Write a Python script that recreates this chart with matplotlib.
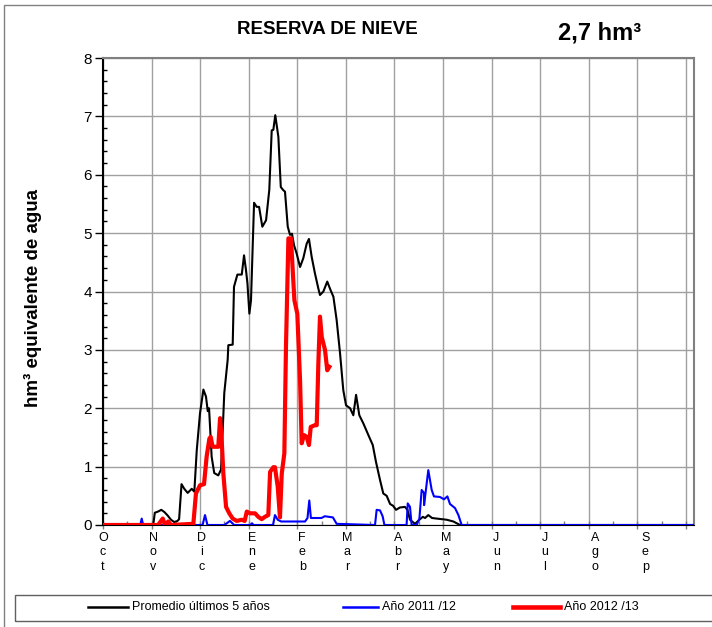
import matplotlib.pyplot as plt
import matplotlib.transforms as mtransforms
from matplotlib.patches import Rectangle
from matplotlib.lines import Line2D
import numpy as np

plt.rcParams['font.family'] = ['Liberation Sans', 'DejaVu Sans']

# dias desde 1 oct
prom_d = [0, 31, 32, 34, 36, 38, 40, 42, 44, 46, 47, 48.5, 50.2, 52.3, 54.8, 56.4, 57.9, 59.9,
          62, 63.6, 64.7, 65.5, 67.1, 68.7, 71.2, 72.9, 74.9, 77, 77.4, 80.1, 80.9, 83, 85.7,
          87.1, 88.3, 89.2, 90.4, 91.4, 93.3, 94.9, 96.4, 98.4, 100.7, 102.7, 104.2, 105.2, 106.4,
          108.3, 109.8, 111.2, 112.4, 114.1, 115.5, 116.7, 118, 119.6, 121.7, 123.7, 125.8,
          127.2, 128.9, 130.9, 133, 134, 136.1, 138.5, 140.6, 142.3, 144.3, 146.4, 148.4,
          150.1, 152.6, 154.6, 156.3, 158.3, 160.8, 163.9, 166.6, 168.6, 171.1, 173.1, 175.2,
          177.3, 179.1, 181, 183.4, 186.5, 188, 189.6, 192.7, 195.4, 197.5, 198.9, 200.9,
          203.2, 206.1, 212.3, 216.4, 220.5, 365]
prom_v = [0, 0, 0.21, 0.23, 0.26, 0.22, 0.16, 0.09, 0.05, 0.07, 0.10, 0.70, 0.62, 0.55, 0.62, 0.57, 1.28, 1.91,
          2.32, 2.20, 1.95, 2.00, 1.17, 0.89, 0.85, 0.95, 2.26, 2.83, 3.08, 3.09, 4.08, 4.29, 4.29,
          4.62, 4.37, 4.14, 3.62, 3.85, 5.52, 5.45, 5.45, 5.11, 5.22, 5.74, 6.76, 6.77, 7.02,
          6.65, 5.79, 5.74, 5.71, 5.11, 4.97, 4.99, 4.79, 4.65, 4.42, 4.57, 4.82,
          4.90, 4.59, 4.31, 4.05, 3.94, 4.00, 4.17, 4.02, 3.91, 3.51, 2.94, 2.31,
          2.05, 2.00, 1.88, 2.23, 1.88, 1.74, 1.54, 1.37, 1.08, 0.77, 0.54, 0.50,
          0.36, 0.33, 0.26, 0.30, 0.31, 0.26, 0.09, 0.02, 0.09, 0.14, 0.12, 0.17,
          0.12, 0.11, 0.09, 0.06, 0.0, 0.0]

a1112_d = [0, 23, 23.9, 24.8, 40, 41, 42, 61.5, 63, 64.5, 75, 78.4, 81, 91, 92, 93, 105, 106.2, 107.9,
           110, 124.8, 126.3, 127.4, 128.4, 134.9, 137, 142, 144.3, 168, 169, 171.1, 172.7, 173.8,
           187.5, 188.2, 189.6, 190.6, 193.7, 195.4, 196.8, 198.2, 198.3, 200.9, 203, 204.4, 208.1,
           210.6, 212.7, 214.3, 217.4, 219.5, 221.5, 365]
a1112_v = [0, 0, 0.11, 0, 0, 0.03, 0, 0, 0.17, 0, 0, 0.07, 0, 0, 0.03, 0, 0, 0.17, 0.09,
           0.06, 0.06, 0.12, 0.42, 0.12, 0.12, 0.15, 0.13, 0.02, 0, 0.26, 0.25, 0.15, 0,
           0, 0.37, 0.31, 0, 0, 0.11, 0.60, 0.55, 0.34, 0.94, 0.60, 0.49, 0.48,
           0.44, 0.49, 0.36, 0.29, 0.17, 0.0, 0.0]

a1213_d = [0, 34, 36.9, 38.3, 40.3, 42, 55.8, 57.4, 59.9, 62.4, 64, 65.7, 66.5, 67.7, 71.2, 72.3, 73.3,
           74.3, 76, 78, 80.1, 82.6, 85.7, 87.5, 88.8, 90.8, 93.9, 95.9, 98, 100, 102.1, 103.2,
           105.2, 106.2, 107.9, 109.3, 110.4, 112, 113, 114.5, 116.1, 117.5, 118.2, 120, 121.7,
           122.7, 124.2, 125.8, 127.2, 128.3, 130.9, 132, 133, 134, 135.1, 137.1, 138.5, 139.8]
a1213_v = [0, 0, 0.11, 0, 0.06, 0, 0.02, 0.54, 0.68, 0.70, 1.17, 1.48, 1.51, 1.34, 1.34, 1.83, 1.46,
           0.89, 0.31, 0.20, 0.11, 0.07, 0.09, 0.07, 0.23, 0.20, 0.20, 0.14, 0.10, 0.14, 0.17, 0.91,
           0.99, 0.99, 0.66, 0.13, 0.88, 1.23, 3.05, 4.91, 4.91, 4.20, 3.85, 3.62, 2.48,
           1.40, 1.54, 1.51, 1.37, 1.68, 1.71, 1.71, 2.77, 3.57, 3.22, 3.00, 2.65, 2.71]

meses = ['Oct', 'Nov', 'Dic', 'Ene', 'Feb', 'Mar', 'Abr', 'May', 'Jun', 'Jul', 'Ago', 'Sep']
inicio_mes = [0, 31, 61, 92, 123, 151, 182, 212, 243, 273, 304, 335]

W, H = 712, 627
fig = plt.figure(figsize=(W / 100, H / 100), dpi=100)
ax = fig.add_axes([103 / W, 102 / H, 591 / W, 467 / H])

# marco exterior
fig.patches.append(Rectangle((4 / W, -0.1), 1.2, (622 + 62.7) / H, transform=fig.transFigure,
                             fill=False, edgecolor='#808080', linewidth=1))

l1, = ax.plot(prom_d, prom_v, color='black', lw=1.5, zorder=3)
l2, = ax.plot(a1112_d, a1112_v, color='#0000ff', lw=1.5, zorder=4)
l3, = ax.plot(a1213_d, a1213_v, color='#ff0000', lw=3, zorder=5)

ax.set_xlim(0, 365)
ax.set_ylim(0, 8)
ax.set_xticks(np.arange(0, 365, 30))
ax.set_xticks(np.arange(15, 365, 30), minor=True)
ax.set_xticklabels([])
ax.set_yticks(np.arange(0, 9, 1))
ax.set_yticks(np.arange(0, 8.01, 0.2), minor=True)
ax.grid(True, which='major', color='#a0a0a0', lw=1)
ax.set_axisbelow(True)
ax.tick_params(axis='y', which='major', direction='out', length=6, width=1, labelsize=11, pad=2)
ax.tick_params(axis='y', which='minor', direction='in', length=3, width=1)
ax.tick_params(axis='x', which='major', direction='inout', length=6, width=1, color='#808080')
ax.tick_params(axis='x', which='minor', direction='in', length=3, width=1, color='#808080')
ax.spines['left'].set_color('black')
ax.spines['left'].set_linewidth(1.5)
ax.spines['bottom'].set_color('black')
for s in ['top', 'right']:
    ax.spines[s].set_color('#808080')
    ax.spines[s].set_linewidth(1.5)

trans = mtransforms.blended_transform_factory(ax.transData, ax.transAxes)
for m, d in zip(meses, inicio_mes):
    ax.text(d, -0.015, '\n'.join(m), transform=trans, ha='center', va='top',
            fontsize=9, linespacing=1.25)

fig.text(33 / W, 1 - 298 / H, 'hm³ equivalente de agua', rotation=90, ha='center', va='center',
         fontsize=13.5, fontweight='bold')

fig.text(327 / W, 1 - 30 / H, 'RESERVA DE NIEVE', ha='center', va='center',
         fontsize=13.5, fontweight='bold')
fig.text(600 / W, 1 - 33 / H, '2,7 hm³', ha='center', va='center',
         fontsize=17, fontweight='bold')

# leyenda
fig.patches.append(Rectangle((15 / W, 1 - 621 / H), 1.0, 26 / H, transform=fig.transFigure,
                             fill=False, edgecolor='#606060', linewidth=1))
ley_y = 1 - 607 / H
for ln, (x0, x1), txt in [(l1, (88, 128), 'Promedio últimos 5 años'),
                          (l2, (343, 378), 'Año 2011 /12'),
                          (l3, (513, 560), 'Año 2012 /13')]:
    fig.lines.append(Line2D([x0 / W, x1 / W], [ley_y, ley_y], transform=fig.transFigure,
                            color=ln.get_color(), lw=ln.get_linewidth() + 0.3))
    fig.text((x1 + 4) / W, ley_y, txt, ha='left', va='center', fontsize=9)

fig.savefig('out.png', dpi=100)
